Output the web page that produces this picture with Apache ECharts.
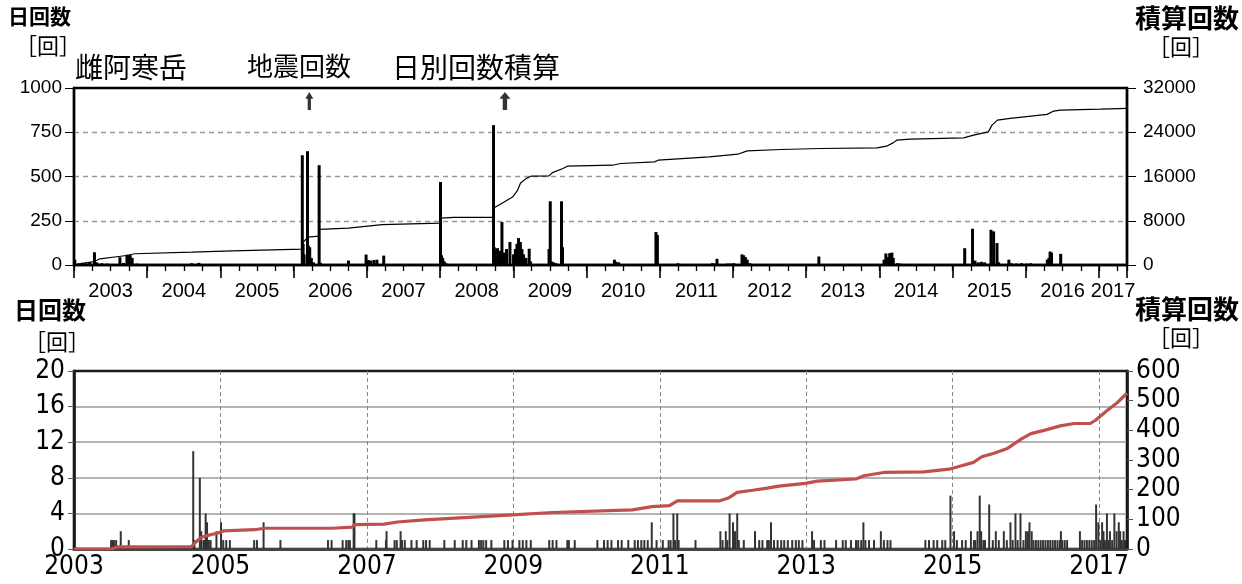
<!DOCTYPE html>
<html>
<head>
<meta charset="utf-8">
<script src="https://cdn.jsdelivr.net/npm/echarts@6/dist/echarts.min.js"></script>
<style>
html,body{margin:0;padding:0;background:#fff;}
#chart{width:1242px;height:584px;}
</style>
</head>
<body>
<div id="chart"></div>
<script>
// ---- period shown on both panels ----
const startDate = '2003-01-01';
const endDate = '2017-05-20';

// ---- upper panel: daily earthquake counts (left axis) ----
const upperDaily = [
  ['2003-01-05', 30], ['2003-02-10', 12], ['2003-03-01', 10], ['2003-03-20', 15],
  ['2003-04-13', 72], ['2003-04-25', 15], ['2003-05-20', 10], ['2003-06-15', 8],
  ['2003-08-18', 44], ['2003-09-05', 12], ['2003-09-22', 58], ['2003-09-30', 55],
  ['2003-10-08', 56], ['2003-10-18', 40], ['2003-11-10', 8],
  ['2004-08-10', 10], ['2004-09-15', 12], ['2005-03-05', 6],
  ['2006-02-13', 620], ['2006-02-17', 120], ['2006-02-22', 60],
  ['2006-03-11', 643], ['2006-03-15', 110], ['2006-03-22', 100], ['2006-03-30', 40],
  ['2006-04-10', 15], ['2006-05-08', 564], ['2006-05-15', 12],
  ['2006-10-01', 25], ['2006-12-28', 59], ['2007-01-08', 28], ['2007-01-20', 25],
  ['2007-02-05', 28], ['2007-02-20', 30], ['2007-03-26', 53],
  ['2008-01-03', 469], ['2008-01-08', 55], ['2008-01-14', 40], ['2008-01-22', 20], ['2008-01-30', 10],
  ['2008-09-24', 790], ['2008-09-28', 100], ['2008-10-01', 85], ['2008-10-14', 95],
  ['2008-10-26', 80], ['2008-11-05', 243], ['2008-11-16', 70], ['2008-11-28', 90],
  ['2008-12-15', 130], ['2009-01-02', 60], ['2009-01-11', 90], ['2009-01-19', 120],
  ['2009-01-27', 152], ['2009-02-05', 130], ['2009-02-13', 90], ['2009-02-21', 60],
  ['2009-03-05', 40], ['2009-03-21', 92], ['2009-03-28', 20],
  ['2009-06-28', 90], ['2009-07-04', 360], ['2009-07-10', 20], ['2009-07-20', 15], ['2009-08-01', 10],
  ['2009-08-29', 360], ['2009-09-03', 100], ['2009-10-12', 5],
  ['2010-05-20', 30], ['2010-05-28', 18], ['2010-06-10', 15],
  ['2010-12-13', 186], ['2010-12-20', 170],
  ['2011-02-10', 6], ['2011-03-01', 6], ['2011-04-01', 10],
  ['2011-09-20', 10], ['2011-10-01', 8], ['2011-10-13', 35],
  ['2011-12-05', 8], ['2011-12-20', 8], ['2012-01-05', 10],
  ['2012-02-15', 60], ['2012-02-23', 55], ['2012-03-03', 45], ['2012-03-12', 30], ['2012-03-25', 10],
  ['2013-03-05', 48],
  ['2014-01-24', 30], ['2014-02-02', 65], ['2014-02-12', 45], ['2014-02-21', 67],
  ['2014-03-04', 70], ['2014-03-11', 40], ['2014-04-01', 10], ['2014-04-15', 8], ['2014-06-10', 5],
  ['2015-03-02', 95], ['2015-04-10', 205], ['2015-04-22', 25], ['2015-05-08', 15],
  ['2015-05-24', 18], ['2015-06-09', 15], ['2015-07-11', 199], ['2015-07-24', 190],
  ['2015-08-10', 124], ['2015-08-18', 15], ['2015-10-08', 30], ['2015-10-20', 10],
  ['2015-11-15', 8], ['2015-12-10', 10], ['2016-01-05', 8], ['2016-01-25', 10],
  ['2016-04-17', 30], ['2016-04-25', 40], ['2016-05-01', 76], ['2016-05-08', 70],
  ['2016-06-23', 63]
];

// ---- upper panel: running total of daily counts (right axis) ----
const upperCumulative = [
  ['2003-01-01', 0], ['2003-01-20', 150], ['2003-04-10', 600], ['2003-04-16', 850],
  ['2003-05-10', 1120], ['2003-08-12', 1540], ['2003-09-20', 1720], ['2003-10-30', 2030],
  ['2004-08-10', 2320], ['2005-03-01', 2570], ['2006-02-12', 2870], ['2006-02-14', 3960],
  ['2006-03-12', 5040], ['2006-05-07', 5220], ['2006-05-09', 6440], ['2006-10-01', 6680],
  ['2007-03-18', 7290], ['2008-01-02', 7580], ['2008-01-04', 8490], ['2008-03-10', 8610],
  ['2008-09-23', 8610], ['2008-09-25', 10300], ['2008-11-16', 11390], ['2008-12-28', 12290],
  ['2009-01-22', 13510], ['2009-02-06', 14830], ['2009-03-05', 15620], ['2009-03-30', 16050],
  ['2009-06-28', 16100], ['2009-07-15', 16710], ['2009-09-05', 17440], ['2009-09-27', 17860],
  ['2010-05-10', 18040], ['2010-06-20', 18350], ['2010-12-06', 18640], ['2010-12-24', 18950],
  ['2011-09-05', 19540], ['2012-01-25', 20030], ['2012-03-12', 20630], ['2012-08-28', 20880],
  ['2013-03-10', 21060], ['2013-12-20', 21180], ['2014-02-05', 21480], ['2014-03-10', 22080],
  ['2014-03-28', 22570], ['2014-06-03', 22750], ['2015-02-25', 22990], ['2015-04-15', 23480],
  ['2015-06-28', 24080], ['2015-07-16', 25290], ['2015-08-12', 26200], ['2015-10-15', 26500],
  ['2016-04-16', 27230], ['2016-05-19', 27830], ['2016-06-21', 28010], ['2017-01-08', 28190],
  ['2017-05-20', 28320]
];

// dates flagged with an upward arrow along the top of the upper panel
const arrowDates = ['2006-03-20', '2008-11-20'];
const arrowLevel = 926;

// year labels of the upper panel
const upperYearLabels = [2003, 2004, 2005, 2006, 2007, 2008, 2009, 2010, 2011, 2012, 2013, 2014, 2015, 2016, 2017];

// ---- lower panel: daily earthquake counts (left axis) ----
const lowerDaily = [
  ['2003-07-05', 1], ['2003-07-12', 1], ['2003-07-19', 1], ['2003-07-30', 1], ['2003-08-22', 2], ['2003-10-01', 1],
  ['2004-08-18', 11], ['2004-08-24', 1], ['2004-09-20', 8], ['2004-09-27', 2], ['2004-10-08', 1],
  ['2004-10-14', 1], ['2004-10-19', 4], ['2004-10-22', 1], ['2004-10-26', 3], ['2004-10-30', 1],
  ['2004-11-04', 1], ['2004-11-13', 1], ['2004-12-12', 2],
  ['2005-01-04', 3], ['2005-01-15', 1], ['2005-01-30', 1], ['2005-02-17', 1], ['2005-06-18', 1],
  ['2005-07-02', 1], ['2005-08-04', 3], ['2005-10-27', 1],
  ['2006-06-21', 1], ['2006-07-09', 1], ['2006-09-02', 1], ['2006-09-20', 1], ['2006-10-01', 1],
  ['2006-10-08', 1], ['2006-10-27', 4], ['2006-10-31', 4],
  ['2007-02-17', 1], ['2007-04-06', 1], ['2007-04-09', 2], ['2007-05-19', 1], ['2007-05-30', 1],
  ['2007-06-18', 2], ['2007-06-25', 1], ['2007-07-09', 1], ['2007-08-11', 1], ['2007-09-06', 1],
  ['2007-10-09', 1], ['2007-10-23', 1], ['2007-11-10', 1],
  ['2008-01-22', 1], ['2008-03-14', 1], ['2008-04-23', 1], ['2008-05-11', 1], ['2008-06-06', 1],
  ['2008-07-13', 1], ['2008-07-24', 1], ['2008-08-04', 1], ['2008-08-18', 1], ['2008-09-13', 1],
  ['2008-11-17', 1], ['2008-12-05', 1], ['2008-12-28', 1],
  ['2009-01-31', 1], ['2009-02-17', 1], ['2009-03-07', 1], ['2009-03-29', 1], ['2009-06-29', 1],
  ['2009-07-16', 1], ['2009-08-04', 1], ['2009-09-27', 1], ['2009-10-05', 1], ['2009-11-03', 1],
  ['2010-02-24', 1], ['2010-03-29', 1], ['2010-04-16', 1], ['2010-05-05', 1], ['2010-06-07', 1],
  ['2010-06-25', 1], ['2010-07-28', 1], ['2010-08-29', 1], ['2010-09-14', 1], ['2010-10-01', 1],
  ['2010-10-16', 1], ['2010-11-02', 1], ['2010-11-22', 3], ['2010-12-16', 1],
  ['2011-01-16', 1], ['2011-02-14', 1], ['2011-02-24', 1], ['2011-03-10', 4], ['2011-03-18', 1],
  ['2011-03-29', 4], ['2011-04-05', 1], ['2011-06-28', 1], ['2011-10-30', 2], ['2011-11-10', 1],
  ['2011-11-26', 2], ['2011-12-04', 1], ['2011-12-15', 4],
  ['2012-01-01', 3], ['2012-01-11', 2], ['2012-01-22', 4], ['2012-01-30', 1], ['2012-02-24', 1],
  ['2012-04-20', 2], ['2012-05-11', 1], ['2012-05-27', 1], ['2012-06-20', 1], ['2012-06-28', 1],
  ['2012-07-09', 3], ['2012-07-24', 1], ['2012-08-11', 1], ['2012-08-29', 1], ['2012-09-13', 1],
  ['2012-10-01', 1], ['2012-10-23', 1], ['2012-11-10', 1], ['2012-11-25', 1], ['2012-12-13', 1],
  ['2013-01-30', 2], ['2013-02-09', 1], ['2013-03-15', 1], ['2013-04-02', 1], ['2013-05-30', 1],
  ['2013-07-02', 1], ['2013-07-17', 1], ['2013-08-12', 1], ['2013-09-06', 1], ['2013-09-17', 1],
  ['2013-10-02', 1], ['2013-10-13', 3], ['2013-10-23', 1], ['2013-11-10', 1], ['2013-12-05', 1],
  ['2014-01-08', 2], ['2014-01-23', 1], ['2014-02-10', 1], ['2014-02-25', 1],
  ['2014-08-18', 1], ['2014-09-05', 1], ['2014-09-28', 1], ['2014-10-16', 1], ['2014-11-10', 1],
  ['2014-11-25', 1], ['2014-12-21', 6],
  ['2015-01-08', 2], ['2015-01-22', 1], ['2015-02-17', 1], ['2015-03-07', 1], ['2015-04-02', 2],
  ['2015-04-17', 1], ['2015-04-24', 1], ['2015-05-05', 2], ['2015-05-16', 6], ['2015-05-23', 2],
  ['2015-06-03', 1], ['2015-06-11', 1], ['2015-07-02', 5], ['2015-07-20', 1], ['2015-08-04', 2],
  ['2015-08-19', 1], ['2015-09-13', 2], ['2015-09-28', 1], ['2015-10-16', 3], ['2015-10-27', 1],
  ['2015-11-10', 4], ['2015-11-21', 1], ['2015-12-05', 4], ['2015-12-20', 1],
  ['2016-01-01', 2], ['2016-01-11', 2], ['2016-01-19', 3], ['2016-01-30', 2], ['2016-02-08', 1],
  ['2016-02-20', 1], ['2016-03-03', 1], ['2016-03-15', 1], ['2016-03-27', 1], ['2016-04-08', 1],
  ['2016-04-20', 1], ['2016-05-02', 1], ['2016-05-14', 1], ['2016-05-26', 1], ['2016-06-07', 1],
  ['2016-06-19', 1], ['2016-06-24', 2], ['2016-07-01', 1], ['2016-07-13', 1], ['2016-07-25', 1],
  ['2016-09-27', 2], ['2016-10-08', 1], ['2016-10-20', 1], ['2016-11-01', 1], ['2016-11-13', 1],
  ['2016-11-25', 1], ['2016-12-07', 1], ['2016-12-17', 5], ['2016-12-28', 3],
  ['2017-01-07', 1], ['2017-01-16', 3], ['2017-01-23', 2], ['2017-01-30', 1], ['2017-02-09', 4],
  ['2017-02-17', 1], ['2017-02-24', 2], ['2017-03-07', 1], ['2017-03-18', 4], ['2017-03-29', 2],
  ['2017-04-09', 3], ['2017-04-16', 2], ['2017-04-24', 1], ['2017-05-03', 2], ['2017-05-10', 1]
];

// ---- lower panel: running total (right axis) ----
const lowerCumulative = [
  ['2003-01-01', 0], ['2003-07-05', 0], ['2003-08-05', 7], ['2004-08-10', 8], ['2004-08-25', 20],
  ['2004-09-26', 39], ['2004-10-30', 46], ['2004-12-20', 54], ['2005-01-15', 61], ['2005-06-20', 65],
  ['2005-08-10', 70], ['2006-07-10', 70], ['2006-10-22', 74], ['2006-10-31', 82], ['2007-03-28', 84],
  ['2007-06-02', 91], ['2007-10-15', 98], ['2008-12-28', 115], ['2009-07-15', 123], ['2010-08-18', 132],
  ['2010-11-24', 143], ['2011-02-18', 146], ['2011-03-30', 162], ['2011-10-24', 162], ['2011-12-12', 173],
  ['2012-01-22', 191], ['2012-04-08', 198], ['2012-06-20', 205], ['2012-08-18', 212], ['2012-12-28', 221],
  ['2013-02-25', 229], ['2013-09-05', 236], ['2013-10-16', 247], ['2014-01-22', 258], ['2014-08-10', 260],
  ['2014-12-14', 269], ['2015-02-10', 280], ['2015-04-15', 292], ['2015-05-26', 311], ['2015-07-22', 322],
  ['2015-10-01', 339], ['2015-12-12', 372], ['2016-01-26', 389], ['2016-04-01', 400], ['2016-06-21', 415],
  ['2016-08-29', 423], ['2016-11-18', 423], ['2016-12-14', 434], ['2017-02-10', 467], ['2017-04-01', 493],
  ['2017-05-12', 520], ['2017-05-20', 525]
];

// converts 'YYYY-MM-DD' into a fractional year so both panels share a linear year scale
function toYear(s) {
  const [y, m, d] = s.split('-').map(Number);
  const t = Date.UTC(y, m - 1, d), a = Date.UTC(y, 0, 1), b = Date.UTC(y + 1, 0, 1);
  return y + (t - a) / (b - a);
}
const pts = arr => arr.map(([d, v]) => [toYear(d), v]);
const plain = v => String(v);

const X0 = toYear(startDate), X1 = toYear(endDate);
// upper year labels sit in the middle of each (visible part of a) year
const upperLabelPos = upperYearLabels.map(y => (Math.max(y, X0) + Math.min(y + 1, X1)) / 2);

const JP = "'Noto Sans CJK JP', 'Noto Sans', sans-serif";
const NUM = "'Liberation Sans', Arial, sans-serif";
const NARROW = "'Liberation Sans Narrow', 'DejaVu Sans Condensed', 'Liberation Sans', sans-serif";

const chart = echarts.init(document.getElementById('chart'), null, { renderer: 'canvas' });

const gridU = { left: 74, right: 115, top: 88, height: 177, show: true, borderColor: '#000', borderWidth: 2.4, backgroundColor: 'transparent' };
const gridL = { left: 74, right: 115, top: 371, height: 178, show: true, borderColor: '#1a1a1a', borderWidth: 2.6, backgroundColor: 'transparent' };

const baseX = (grid) => ({ type: 'value', gridIndex: grid, min: X0, max: X1, splitLine: { show: false } });

const option = {
  animation: false,
  backgroundColor: '#fff',
  grid: [gridU, gridL],
  xAxis: [
    // upper: quarter-year ticks
    Object.assign(baseX(0), {
      interval: 0.25, position: 'bottom',
      axisLine: { show: true, lineStyle: { color: '#000', width: 2.4 } },
      axisTick: { show: true, inside: false, length: 6, lineStyle: { color: '#000', width: 1.3 } },
      axisLabel: { show: false }
    }),
    // upper: year ticks
    Object.assign(baseX(0), {
      interval: 1, position: 'bottom',
      axisLine: { show: false },
      axisTick: { show: true, length: 13, lineStyle: { color: '#000', width: 1.6 } },
      axisLabel: { show: false }
    }),
    // upper: year names centred in each year
    Object.assign(baseX(0), {
      position: 'bottom',
      axisLine: { show: false },
      axisTick: { show: false },
      axisLabel: {
        show: true, customValues: upperLabelPos, margin: 16,
        formatter: v => String(Math.floor(v)),
        color: '#000', fontFamily: NUM, fontSize: 20
      }
    }),
    // lower: every second year
    Object.assign(baseX(1), {
      interval: 2,
      axisLine: { show: true, lineStyle: { color: '#444', width: 3 } },
      axisTick: { show: false },
      splitLine: { show: true, showMinLine: false, showMaxLine: false, lineStyle: { color: '#888', type: [4, 3], width: 1 } },
      axisLabel: { show: true, margin: 5, showMinLabel: true, formatter: plain, color: '#000', fontFamily: NARROW, fontSize: 26 }
    })
  ],
  yAxis: [
    {
      type: 'value', gridIndex: 0, min: 0, max: 1000, interval: 250, position: 'left',
      axisLine: { show: true, lineStyle: { color: '#000', width: 2.4 } },
      axisTick: { show: true, length: 9, lineStyle: { color: '#000', width: 1 } },
      axisLabel: { color: '#000', fontFamily: NUM, fontSize: 19, margin: 12, formatter: plain },
      splitLine: { show: true, showMinLine: false, showMaxLine: false, lineStyle: { color: '#999', type: [5, 4], width: 1.3 } }
    },
    {
      type: 'value', gridIndex: 0, min: 0, max: 32000, interval: 8000, position: 'right',
      axisLine: { show: true, lineStyle: { color: '#000', width: 2.4 } },
      axisTick: { show: true, length: 9, lineStyle: { color: '#000', width: 1 } },
      axisLabel: { color: '#000', fontFamily: NUM, fontSize: 19, margin: 16, formatter: plain },
      splitLine: { show: false }
    },
    {
      type: 'value', gridIndex: 1, min: 0, max: 20, interval: 4, position: 'left',
      axisLine: { show: true, lineStyle: { color: '#1a1a1a', width: 2.6 } },
      axisTick: { show: true, length: 6, lineStyle: { color: '#555', width: 1 } },
      axisLabel: { color: '#000', fontFamily: NARROW, fontSize: 26, margin: 9, formatter: plain },
      splitLine: { show: true, showMinLine: false, showMaxLine: false, lineStyle: { color: '#9a9a9a', width: 1.6 } }
    },
    {
      type: 'value', gridIndex: 1, min: 0, max: 600, interval: 100, position: 'right',
      axisLine: { show: true, lineStyle: { color: '#1a1a1a', width: 2.6 } },
      axisTick: { show: true, length: 6, lineStyle: { color: '#555', width: 1 } },
      axisLabel: { color: '#000', fontFamily: NARROW, fontSize: 26, margin: 9, formatter: plain },
      splitLine: { show: false }
    }
  ],
  graphic: [
    { type: 'text', left: 8, top: 6, style: { text: '日回数', font: `bold 21px ${JP}`, fill: '#000' } },
    { type: 'text', left: 15, top: 35, style: { text: '［回］', font: `22px ${JP}`, fill: '#000' } },
    { type: 'text', left: 75, top: 53, style: { text: '雌阿寒岳', font: `28px ${JP}`, fill: '#000' } },
    { type: 'text', left: 247, top: 53, style: { text: '地震回数', font: `26px ${JP}`, fill: '#000' } },
    { type: 'text', left: 392, top: 53, style: { text: '日別回数積算', font: `28px ${JP}`, fill: '#000' } },
    { type: 'text', right: 3, top: 5, style: { text: '積算回数', font: `bold 26px ${JP}`, fill: '#000' } },
    { type: 'text', left: 1148, top: 36, style: { text: '［回］', font: `22px ${JP}`, fill: '#000' } },
    { type: 'text', left: 14, top: 298, style: { text: '日回数', font: `bold 24px ${JP}`, fill: '#000' } },
    { type: 'text', left: 24, top: 331, style: { text: '［回］', font: `22px ${JP}`, fill: '#000' } },
    { type: 'text', right: 3, top: 296, style: { text: '積算回数', font: `bold 26px ${JP}`, fill: '#000' } },
    { type: 'text', left: 1148, top: 327, style: { text: '［回］', font: `22px ${JP}`, fill: '#000' } }
  ],
  series: [
    {
      name: '地震回数', type: 'bar', xAxisIndex: 0, yAxisIndex: 0,
      data: pts(upperDaily), barWidth: 3, itemStyle: { color: '#000' }, silent: true
    },
    {
      name: '日別回数積算', type: 'line', xAxisIndex: 0, yAxisIndex: 1,
      data: pts(upperCumulative), showSymbol: false, lineStyle: { color: '#000', width: 1.2 }, silent: true
    },
    {
      name: 'arrows', type: 'scatter', xAxisIndex: 0, yAxisIndex: 0,
      data: arrowDates.map((d, i) => ({
        value: [toYear(d), arrowLevel],
        symbolSize: i === 0 ? [8, 18] : [11, 18]
      })),
      symbol: 'path://M5,0 L10,6 L7,6 L7,16 L3,16 L3,6 L0,6 Z',
      itemStyle: { color: '#000' }, silent: true
    },
    {
      name: '日回数', type: 'bar', xAxisIndex: 3, yAxisIndex: 2,
      data: pts(lowerDaily), barWidth: 2, itemStyle: { color: '#333' }, silent: true
    },
    {
      name: '積算回数', type: 'line', xAxisIndex: 3, yAxisIndex: 3,
      data: pts(lowerCumulative), showSymbol: false, lineStyle: { color: '#c0504d', width: 3.2 }, silent: true
    }
  ]
};
chart.setOption(option);
</script>
</body>
</html>
